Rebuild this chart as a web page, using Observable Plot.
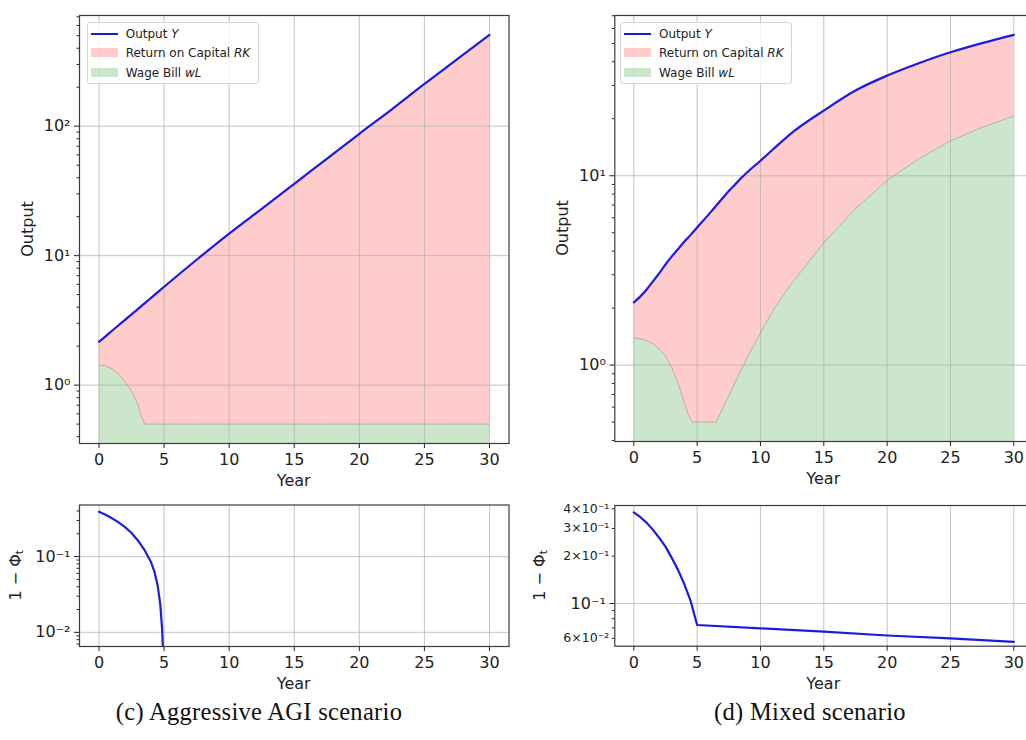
<!DOCTYPE html>
<html><head><meta charset="utf-8">
<script src="https://cdn.jsdelivr.net/npm/d3@7"></script>
<script src="https://cdn.jsdelivr.net/npm/@observablehq/plot@0.6"></script>
<style>
html,body{margin:0;padding:0;background:#fff;overflow:hidden;width:1026px;height:740px;}
#root{position:relative;width:1026px;height:740px;overflow:hidden;font-family:"DejaVu Sans",sans-serif;}
.panel{position:absolute;}
.panel svg{overflow:visible;max-width:none !important;}
.legend{position:absolute;border:1px solid #d4d4d4;border-radius:3px;background:rgba(255,255,255,0.82);font-size:12px;color:#222;box-sizing:border-box;}
.legend .row{position:absolute;left:0;height:16px;line-height:16px;white-space:nowrap;}
.legend .sw{position:absolute;left:3px;width:27px;}
.legend .lab{position:absolute;left:38px;top:0;}
.caption{position:absolute;font-family:"Liberation Serif","DejaVu Serif",serif;font-size:24.5px;letter-spacing:0.3px;color:#111;transform:translateX(-50%);white-space:nowrap;line-height:1;}
</style></head><body><div id="root"></div>
<script>
// ---------- data ----------
const xTicks = [0, 5, 10, 15, 20, 25, 30];

// (c) Aggressive AGI scenario
const yearsC  = [0, 0.5, 1, 1.5, 2, 2.5, 3, 3.25, 3.5, 4, 5, 7.5, 10, 12.5, 15, 17.5, 20, 22.5, 25, 27.5, 30];
const outputC = [2.16, 2.38, 2.63, 2.9, 3.19, 3.52, 3.88, 4.08, 4.28, 4.72, 5.75, 9.3, 14.8, 23.0, 35.9, 56, 87.4, 135, 212, 328, 507];
const wageC   = [1.43, 1.41, 1.34, 1.22, 1.06, 0.9, 0.70, 0.58, 0.5, 0.5, 0.5, 0.5, 0.5, 0.5, 0.5, 0.5, 0.5, 0.5, 0.5, 0.5, 0.5];
const phiYearsC = [0, 0.5, 1, 1.5, 2, 2.5, 3, 3.5, 4, 4.25, 4.5, 4.7, 4.85, 4.95, 5];
const phiC      = [0.39, 0.357, 0.32, 0.284, 0.245, 0.205, 0.162, 0.122, 0.084, 0.064, 0.042, 0.024, 0.011, 0.004, 0.001];

// (d) Mixed scenario
const yearsD  = [0, 0.5, 1, 1.5, 2, 2.5, 3, 3.5, 4, 4.3, 4.6, 5, 6, 6.5, 7, 7.5, 8, 8.5, 9, 10, 11, 12.5, 15, 17.5, 20, 22.5, 25, 27.5, 30];
const outputD = [2.14, 2.3, 2.5, 2.76, 3.05, 3.4, 3.75, 4.1, 4.5, 4.72, 4.97, 5.33, 6.35, 6.95, 7.6, 8.3, 9.0, 9.75, 10.5, 12.0, 13.8, 16.9, 22.1, 28.2, 33.8, 39.3, 44.9, 50.2, 55.5];
const wageD   = [1.39, 1.38, 1.35, 1.3, 1.22, 1.12, 0.97, 0.8, 0.63, 0.55, 0.5, 0.5, 0.5, 0.5, 0.587, 0.69, 0.81, 0.95, 1.11, 1.48, 1.95, 2.72, 4.43, 6.7, 9.46, 12.3, 15.3, 18.0, 20.7];
const phiYearsD = [0, 0.5, 1, 1.5, 2, 2.5, 3, 3.5, 4, 4.5, 5, 10, 15, 20, 25, 30];
const phiD      = [0.38, 0.355, 0.327, 0.295, 0.262, 0.23, 0.195, 0.163, 0.132, 0.103, 0.073, 0.0695, 0.0662, 0.0626, 0.060, 0.057];

// axis ticks
const outMajorC = [1, 10, 100];
const outMinorC = [0.4,0.5,0.6,0.7,0.8,0.9, 2,3,4,5,6,7,8,9, 20,30,40,50,60,70,80,90, 200,300,400,500,600,700];
const outMajorD = [1, 10];
const outMinorD = [0.4,0.5,0.6,0.7,0.8,0.9, 2,3,4,5,6,7,8,9, 20,30,40,50,60,70];
const phiMajorC = [0.01, 0.1];
const phiMinorC = [0.007,0.008,0.009, 0.02,0.03,0.04,0.05,0.06,0.07,0.08,0.09, 0.2,0.3,0.4];
const phiMajorD = [0.1];
const phiMinorD = [0.06, 0.07, 0.08, 0.09, 0.2, 0.3, 0.4];
const phiMinorLabelsD = ["6×10⁻²", "", "", "", "2×10⁻¹", "3×10⁻¹", "4×10⁻¹"];

const legendParts = [["Output ", "Y"], ["Return on Capital ", "RK"], ["Wage Bill ", "wL"]];
const captions = ["(c) Aggressive AGI scenario", "(d) Mixed scenario"];

// ---------- helpers ----------
const supMap = {"-":"⁻","0":"⁰","1":"¹","2":"²","3":"³","4":"⁴","5":"⁵","6":"⁶","7":"⁷","8":"⁸","9":"⁹"};
const fmtPow = v => "10" + [...String(Math.round(Math.log10(v)))].map(c => supMap[c]).join("");
const xDomain = [-1.5, 31.5];
const BLUE = "#1c1ce0";
const root = document.getElementById("root");

function makePanel(cfg) {
  const labelMap = new Map((cfg.minor || []).map((v, i) => [v, cfg.minorLabels ? cfg.minorLabels[i] : ""]));
  const svg = Plot.plot({
    width: cfg.width, height: cfg.height,
    marginLeft: cfg.ml, marginRight: cfg.mr, marginTop: cfg.mt, marginBottom: cfg.mb,
    x: {domain: xDomain},
    y: {type: "log", domain: cfg.yDomain},
    style: {fontFamily: '"DejaVu Sans", sans-serif', fontSize: "16px", color: "#222", background: "transparent", overflow: "visible", maxWidth: "none"},
    marks: [
      ...cfg.areas,
      Plot.gridX({ticks: xTicks, stroke: "#b0b0b0", strokeOpacity: 0.75, strokeWidth: 1}),
      Plot.gridY({ticks: cfg.major, stroke: "#b0b0b0", strokeOpacity: 0.75, strokeWidth: 1}),
      ...cfg.lines,
      Plot.axisX({ticks: xTicks, tickSize: 5, tickPadding: 5, fontSize: 16, label: null, tickFormat: d => String(d)}),
      Plot.axisY({ticks: cfg.major, tickSize: 5, tickPadding: 4, fontSize: 16, label: null, tickFormat: fmtPow}),
      Plot.axisY({ticks: cfg.minor, tickSize: 2.5, tickPadding: 3, fontSize: 12.5, label: null, tickFormat: d => labelMap.get(d) || ""}),
      Plot.frame({stroke: "#3a3a3a", strokeWidth: 1.2})
    ]
  });
  svg.style.maxWidth = "none";
  const sel = d3.select(svg);
  sel.append("text").attr("x", cfg.ml + (cfg.width - cfg.ml - cfg.mr) / 2).attr("y", cfg.height - cfg.mb + 43)
    .attr("text-anchor", "middle").attr("font-size", 16).attr("fill", "#222").text("Year");
  const cy = cfg.mt + (cfg.height - cfg.mt - cfg.mb) / 2;
  const t = sel.append("text").attr("transform", `translate(${cfg.ylabelX},${cy}) rotate(-90)`)
    .attr("text-anchor", "middle").attr("dominant-baseline", "middle").attr("font-size", 16).attr("fill", "#222");
  if (cfg.ylabel === "phi") {
    t.append("tspan").text("1 − Φ");
    t.append("tspan").attr("font-size", 11).attr("dy", 4).text("t");
  } else {
    t.text(cfg.ylabel);
  }
  const div = document.createElement("div");
  div.className = "panel";
  div.style.left = cfg.left + "px";
  div.style.top = cfg.top + "px";
  div.style.width = cfg.width + "px";
  div.style.height = cfg.height + "px";
  div.appendChild(svg);
  root.appendChild(div);
}

function outputMarks(years, output, wage, yDomain) {
  const rows = years.map((y, i) => ({year: y, output: output[i], wage: wage[i]}));
  return {
    areas: [
      Plot.areaY(rows, {x: "year", y1: () => yDomain[0] / 10, y2: "wage", fill: "green", fillOpacity: 0.2, clip: true}),
      Plot.areaY(rows, {x: "year", y1: "wage", y2: "output", fill: "red", fillOpacity: 0.2, clip: true})
    ],
    lines: [
      Plot.lineY(rows, {x: "year", y: "wage", stroke: "#9a7060", strokeOpacity: 0.45, strokeWidth: 1, clip: true}),
      Plot.lineY(rows, {x: "year", y: "output", stroke: BLUE, strokeWidth: 2.2, curve: "monotone-x", clip: true})
    ]
  };
}
function phiMarks(years, phi) {
  const rows = years.map((y, i) => ({year: y, phi: phi[i]}));
  return {areas: [], lines: [Plot.lineY(rows, {x: "year", y: "phi", stroke: BLUE, strokeWidth: 2.2, clip: true})]};
}

// ---------- panels ----------
const domOutC = [0.354, 716], domOutD = [0.395, 70.2];
const domPhiC = [0.0065, 0.48], domPhiD = [0.0535, 0.42];

makePanel({left: 0, top: 0, width: 520, height: 500, ml: 79, mr: 11.5, mt: 15, mb: 57,
  yDomain: domOutC, major: outMajorC, minor: outMinorC, ylabel: "Output", ylabelX: 28,
  ...outputMarks(yearsC, outputC, wageC, domOutC)});
makePanel({left: 520, top: 0, width: 524, height: 500, ml: 94.3, mr: 11.7, mt: 15, mb: 59,
  yDomain: domOutD, major: outMajorD, minor: outMinorD, ylabel: "Output", ylabelX: 43,
  ...outputMarks(yearsD, outputD, wageD, domOutD)});
makePanel({left: 0, top: 490, width: 520, height: 220, ml: 79, mr: 11.5, mt: 14.5, mb: 64,
  yDomain: domPhiC, major: phiMajorC, minor: phiMinorC, ylabel: "phi", ylabelX: 16,
  ...phiMarks(phiYearsC, phiC)});
makePanel({left: 520, top: 490, width: 524, height: 220, ml: 94.3, mr: 11.7, mt: 15, mb: 64.3,
  yDomain: domPhiD, major: phiMajorD, minor: phiMinorD, minorLabels: phiMinorLabelsD, ylabel: "phi", ylabelX: 20,
  ...phiMarks(phiYearsD, phiD)});

// ---------- legends ----------
const swatches = [
  {type: "line", color: BLUE},
  {type: "rect", color: "rgba(255,0,0,0.2)"},
  {type: "rect", color: "rgba(0,128,0,0.2)"}
];
[86.7, 620].forEach(left => {
  const lg = document.createElement("div");
  lg.className = "legend";
  Object.assign(lg.style, {left: left + "px", top: "21.5px", width: "172px", height: "62px"});
  legendParts.forEach((p, i) => {
    const row = document.createElement("div");
    row.className = "row";
    row.style.top = (3 + i * 19.5) + "px";
    row.style.width = "100%";
    const sw = document.createElement("div");
    sw.className = "sw";
    if (swatches[i].type === "line") {
      Object.assign(sw.style, {top: "7px", height: "2px", background: swatches[i].color});
    } else {
      Object.assign(sw.style, {top: "3px", height: "9px", background: swatches[i].color});
    }
    const lab = document.createElement("div");
    lab.className = "lab";
    lab.append(p[0]);
    const it = document.createElement("i");
    it.textContent = p[1];
    lab.append(it);
    row.append(sw, lab);
    lg.append(row);
  });
  root.appendChild(lg);
});

// ---------- captions ----------
[[259, captions[0]], [810, captions[1]]].forEach(([cx, txt]) => {
  const c = document.createElement("div");
  c.className = "caption";
  c.style.left = cx + "px";
  c.style.top = "700px";
  c.textContent = txt;
  root.appendChild(c);
});
</script></body></html>
